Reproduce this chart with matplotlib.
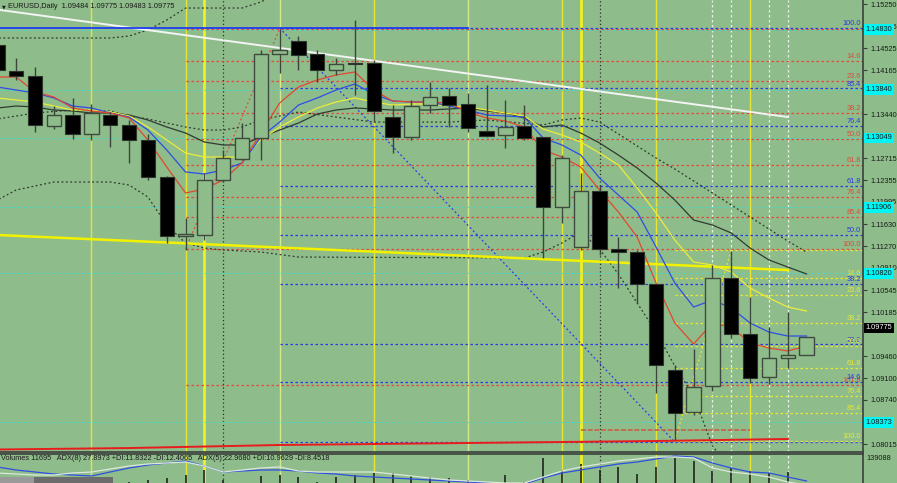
import numpy as np
import matplotlib
matplotlib.use("Agg")
import matplotlib.pyplot as plt
from matplotlib.patches import Rectangle

# ---------------- data ----------------
idx = list(range(-2, 42))
opens = [1.14576, 1.14149, 1.14066, 1.13244, 1.13425, 1.13113, 1.13425, 1.13260, 1.13014, 1.12406,
         1.11435, 1.11452, 1.12356, 1.12702, 1.13047, 1.14428, 1.14642, 1.14428, 1.14165, 1.14280,
         1.14280, 1.13392, 1.13063, 1.13589, 1.13738, 1.13606, 1.13162, 1.13096, 1.13244, 1.13063,
         1.11912, 1.11255, 1.12175, 1.11222, 1.11172, 1.10646, 1.09232, 1.08541, 1.08969, 1.10745,
         1.09824, 1.09117, 1.09429, 1.09484]
highs = [1.14658, 1.14362, 1.14214, 1.13573, 1.13705, 1.13606, 1.13474, 1.13343, 1.13113, 1.12422,
         1.11731, 1.12471, 1.12850, 1.13293, 1.14494, 1.14839, 1.14724, 1.14494, 1.14362, 1.14987,
         1.14329, 1.13589, 1.13672, 1.13968, 1.13869, 1.13787, 1.13918, 1.13672, 1.13589, 1.13063,
         1.12767, 1.12471, 1.12274, 1.11419, 1.11205, 1.10646, 1.09314, 1.09577, 1.10959, 1.11189,
         1.10432, 1.09939, 1.10186, 1.09775]
lows = [1.14083, 1.14001, 1.13146, 1.13195, 1.13030, 1.13014, 1.12899, 1.12636, 1.12356, 1.11320,
        1.11205, 1.11370, 1.12323, 1.12685, 1.12685, 1.14116, 1.14165, 1.13968, 1.14083, 1.13754,
        1.13309, 1.12800, 1.13014, 1.13458, 1.13228, 1.13146, 1.13063, 1.12882, 1.13014, 1.11074,
        1.11649, 1.11205, 1.11123, 1.10580, 1.10334, 1.08854, 1.08081, 1.08492, 1.08887, 1.09758,
        1.09018, 1.09002, 1.09265, 1.09483]
closes = [1.14165, 1.14066, 1.13260, 1.13425, 1.13113, 1.13458, 1.13260, 1.13014, 1.12406, 1.11435,
          1.11468, 1.12356, 1.12718, 1.13047, 1.14428, 1.14494, 1.14412, 1.14165, 1.14264, 1.14264,
          1.13491, 1.13063, 1.13573, 1.13721, 1.13589, 1.13211, 1.13080, 1.13228, 1.13047, 1.11912,
          1.12718, 1.12175, 1.11222, 1.11172, 1.10646, 1.09314, 1.08525, 1.08953, 1.10745, 1.09824,
          1.09101, 1.09429, 1.09479, 1.09775]

ma_red = [1.14050, 1.14050, 1.13803, 1.13721, 1.13540, 1.13491, 1.13458, 1.13376, 1.13014, 1.12570,
          1.12143, 1.12208, 1.12356, 1.12636, 1.13129, 1.13622, 1.13885, 1.14001, 1.14083, 1.14132,
          1.13836, 1.13655, 1.13639, 1.13639, 1.13622, 1.13474, 1.13376, 1.13326, 1.13228, 1.12850,
          1.12734, 1.12570, 1.12192, 1.11830, 1.11419, 1.10663, 1.10005, 1.09660, 1.10005, 1.09939,
          1.09676, 1.09594, 1.09545, 1.09627]
ma_blue = [1.13885, 1.13836, 1.13787, 1.13705, 1.13573, 1.13540, 1.13458, 1.13392, 1.13178, 1.12850,
           1.12488, 1.12455, 1.12521, 1.12636, 1.13063, 1.13309, 1.13589, 1.13705, 1.13836, 1.13935,
           1.13770, 1.13655, 1.13639, 1.13639, 1.13573, 1.13507, 1.13425, 1.13409, 1.13392, 1.13047,
           1.12932, 1.12767, 1.12389, 1.12110, 1.11830, 1.11255, 1.10663, 1.10268, 1.10383, 1.10252,
           1.10005, 1.09857, 1.09791, 1.09791]
ma_yellow = [1.13705, 1.13672, 1.13639, 1.13573, 1.13507, 1.13507, 1.13474, 1.13409, 1.13228, 1.13014,
             1.12800, 1.12734, 1.12734, 1.12734, 1.13014, 1.13228, 1.13392, 1.13540, 1.13639, 1.13705,
             1.13639, 1.13589, 1.13606, 1.13606, 1.13573, 1.13557, 1.13507, 1.13458, 1.13409, 1.13195,
             1.13096, 1.12981, 1.12800, 1.12603, 1.12225, 1.11814, 1.11370, 1.11008, 1.10959, 1.10844,
             1.10580, 1.10416, 1.10268, 1.10202]
ma_dark = [1.13540, 1.13573, 1.13557, 1.13507, 1.13491, 1.13458, 1.13458, 1.13425, 1.13343, 1.13228,
           1.13129, 1.12981, 1.12932, 1.12932, 1.13063, 1.13178, 1.13293, 1.13441, 1.13507, 1.13540,
           1.13524, 1.13507, 1.13507, 1.13507, 1.13524, 1.13540, 1.13491, 1.13458, 1.13376, 1.13228,
           1.13260, 1.13129, 1.12965, 1.12767, 1.12554, 1.12307, 1.12027, 1.11698, 1.11616, 1.11485,
           1.11238, 1.11041, 1.10926, 1.10811]

band_idx = [-2, 4, 5, 6, 7, 8, 11, 12, 13, 14]
band_upper = [1.14691, 1.14691, 1.14724, 1.14823, 1.14987, 1.15184, 1.15184, 1.15283, 1.15448, 1.15650]
mid_idx = [-2, 0, 2, 4, 5, 6, 7, 8, 9, 10, 11, 12, 14, 18, 22, 24, 27, 28, 29, 30, 31, 32, 33, 34,
           35, 36, 37, 38, 39, 40, 41]
band_mid = [1.13359, 1.13458, 1.13507, 1.13491, 1.13409, 1.13359, 1.13293, 1.13228, 1.13178, 1.13178,
            1.13228, 1.13343, 1.13474, 1.13309, 1.13309, 1.13343, 1.13260, 1.13343, 1.13376, 1.13309,
            1.13113, 1.12915, 1.12718, 1.12537, 1.12340, 1.12143, 1.11945, 1.11748, 1.11551, 1.11353,
            1.11172]
low_idx = [-2, -1, 0, 1, 4, 5, 6, 7, 8, 9, 10, 12, 14, 26, 27, 28, 29, 30, 31, 32, 33, 34, 35, 36, 37]
band_lower = [1.12027, 1.12192, 1.12258, 1.12323, 1.12323, 1.12274, 1.12077, 1.11616, 1.11320, 1.11238,
              1.11205, 1.11172, 1.11090, 1.11074, 1.11172, 1.11320, 1.11501, 1.11222, 1.10811, 1.10334,
              1.09857, 1.09298, 1.08805, 1.07983, 1.07600]

long_idx = [-2, 5, 13, 23, 33, 40]
ma_long = [1.07925, 1.07949, 1.07999, 1.08032, 1.08065, 1.08098]

red_fib = (8, 1.11222, 13, 1.14839)      # (index, low) -> (index, high)
blue_fib = (13, 1.14856, 34, 1.08048)    # (index, high) -> (index, low)
yellow_fib = (34, 1.08065, 37, 1.11205)  # (index, low) -> (index, high)
red_levels = [0.0, 14.6, 23.6, 38.2, 50.0, 61.8, 76.4, 85.4, 100.0, 161.8]
blue_levels = [0.0, 14.6, 23.6, 38.2, 50.0, 61.8, 76.4, 85.4, 100.0]
yellow_levels = [0.0, 14.6, 23.6, 38.2, 50.0, 61.8, 76.4, 85.4, 100.0]

cyan_prices = [1.14830, 1.13840, 1.13049, 1.11906, 1.10820, 1.08373]
white_trend = [(-2, 1.15158), (40, 1.13392)]
yellow_trend = [(-2, 1.11452), (40, 1.10876)]
blue_hline = (1.14856, -2, 23)
dim_red_hline = (1.08245, 29, 38)

vl_yellow = [3, 8, 18, 28, 33, 38]
vl_yellow_thick = [9, 29]
vl_pale = [13, 23]
vl_dark = [10, 30]
vl_white = [36, 37, 39, 40]

price_ticks = [1.15250, 1.14885, 1.14525, 1.14165, 1.13440, 1.12715, 1.12355,
               1.11995, 1.11630, 1.11270, 1.10910, 1.10545, 1.10185, 1.09460, 1.09100,
               1.08740, 1.08015]

volumes = [76000, 76000, 78000, 80000, 79000, 81000, 80000, 85250, 89740, 94220, 100950, 112170,
           89740, 83000, 98710, 100950, 96470, 85250, 96470, 100950, 105440, 105440, 98710, 96470,
           94220, 89740, 83000, 100950, 85250, 139088, 112170, 125630, 112170, 118900, 103200, 118900,
           138000, 132360, 109930, 116660, 109930, 105440, 107680, 11695]
adx_main = [27.6, 24.0, 21.6, 19.2, 18.0, 16.8, 21.6, 26.4, 30.0, 32.4, 34.8, 28.8, 21.6, 22.8, 24.0,
            24.0, 22.8, 20.4, 19.2, 16.8, 15.6, 14.4, 13.2, 12.0, 10.8, 9.6, 8.4, 7.2, 7.2, 14.4, 20.4,
            24.0, 27.6, 31.2, 33.6, 37.2, 40.8, 39.6, 32.4, 26.4, 21.6, 20.4, 15.6, 10.8]
adx_fast = [20.4, 19.2, 18.0, 18.0, 20.4, 21.6, 25.2, 28.8, 31.2, 32.4, 33.6, 28.8, 21.6, 24.0, 26.4,
            27.6, 22.8, 21.6, 21.6, 21.6, 21.6, 19.2, 16.8, 14.4, 12.0, 10.8, 9.6, 8.4, 8.4, 15.6, 22.8,
            27.6, 31.2, 34.8, 37.2, 39.6, 39.6, 38.4, 26.4, 21.6, 19.2, 15.6, 9.6, 6.0]

title = "EURUSD,Daily  1.09484 1.09775 1.09483 1.09775"
sub_title = ("Volumes 11695   ADX(8) 27.8973 +DI:11.8322 -DI:12.4065   "
             "ADX(5) 22.9680 +DI:10.9629 -DI:8.4518")
vol_max_label = "139088"
bid_label = "1.09775"

# ---------------- style ----------------
BG = '#8fbc8b'
FONT = 'Liberation Sans'
FS = 5.3
W, H = 897, 483
PLOT_R = 863

fig = plt.figure(figsize=(W / 100, H / 100), dpi=100)
fig.patch.set_facecolor(BG)
ax = fig.add_axes([0, 31 / H, PLOT_R / W, 452 / H])
axv = fig.add_axes([0, 0, PLOT_R / W, 29 / H])
ax.set_facecolor(BG)
axv.set_facecolor(BG)

XL = (-1.86, 44.0)
ax.set_xlim(*XL)
ax.set_ylim(1.07884, 1.15316)
axv.set_xlim(*XL)
axv.set_ylim(83006, 148064)

for a in (ax, axv):
    for s in ('top', 'left'):
        a.spines[s].set_visible(False)
    a.spines['right'].set_color('#3a403a')
    a.spines['right'].set_linewidth(1.2)
    a.spines['bottom'].set_color('#3a403a')
    a.set_xticks([])
axv.spines['top'].set_visible(True)
axv.spines['top'].set_color('#3a403a')
axv.spines['top'].set_linewidth(1.2)
axv.spines['bottom'].set_visible(False)
ax.spines['bottom'].set_linewidth(1.2)

ax.yaxis.tick_right()
ax.set_yticks(price_ticks)
ax.set_yticklabels([f"{p:.5f}" for p in price_ticks], fontsize=FS, family=FONT, color='#1a1a1a')
ax.tick_params(axis='y', length=3, width=0.8, color='#3a403a', pad=2)
axv.set_yticks([])

# vertical lines in both panels
for a in (ax, axv):
    for k in vl_yellow:
        a.axvline(k, color='#e6e632', lw=1.0, zorder=1)
    for k in vl_yellow_thick:
        a.axvline(k, color='#f0f020', lw=2.0, zorder=1)
    for k in vl_pale:
        a.axvline(k, color='#d6e88c', lw=1.0, zorder=1)
    for k in vl_dark:
        a.axvline(k, color='#2a302a', lw=0.9, ls=(0, (1, 2)), zorder=1)
    for k in vl_white:
        a.axvline(k, color='#e8f0e8', lw=0.9, ls=(0, (2, 2)), zorder=1)

# cyan horizontal lines
for p in cyan_prices:
    ax.axhline(p, color='#48d8c8', lw=0.7, ls=(0, (3, 3)), zorder=1)

# fib levels
def fib(spec, levels, color, from_top):
    k0, p0, k1, p1 = spec
    hi, lo = max(p0, p1), min(p0, p1)
    start = min(k0, k1)
    ax.plot([k0, k1], [p0, p1], color=color, lw=0.9, ls=(0, (1.5, 2)), zorder=2)
    for lv in levels:
        if from_top:
            p = hi - lv / 100 * (hi - lo)
        else:
            p = lo + lv / 100 * (hi - lo)
        ax.plot([start, XL[1]], [p, p], color=color, lw=0.9, ls=(0, (2, 2)), zorder=2)
        if lv != 0.0:
            ax.annotate(f"{lv:.1f}", (43.9, p), xytext=(0, 0.5), textcoords='offset points',
                        ha='right', va='bottom', fontsize=FS, family=FONT, color=color, zorder=6)

fib(red_fib, red_levels, '#e04a3a', True)
fib(blue_fib, blue_levels, '#2a3ae8', False)
fib(yellow_fib, yellow_levels, '#e8e830', True)

# dotted bands
ax.plot(band_idx, band_upper, color='#2e3a2e', lw=0.9, ls=(0, (1.5, 2)), zorder=3)
ax.plot(mid_idx, band_mid, color='#2e3a2e', lw=0.9, ls=(0, (1.5, 2)), zorder=3)
ax.plot(low_idx, band_lower, color='#2e3a2e', lw=0.9, ls=(0, (1.5, 2)), zorder=3)

# trend lines and horizontal segments
ax.plot([p[0] for p in white_trend], [p[1] for p in white_trend], color='#f4f4f4', lw=1.4, zorder=4)
ax.plot([p[0] for p in yellow_trend], [p[1] for p in yellow_trend], color='#f2f200', lw=1.8, zorder=4)
ax.plot([blue_hline[1], blue_hline[2]], [blue_hline[0]] * 2, color='#1f3cf0', lw=1.3, zorder=4)
ax.plot([dim_red_hline[1], dim_red_hline[2]], [dim_red_hline[0]] * 2, color='#c8604a', lw=1.2,
        ls=(0, (3, 1)), zorder=3)
ax.plot(long_idx, ma_long, color='#e81c1c', lw=1.4, zorder=4)

# moving averages
ax.plot(idx, ma_dark, color='#2f3c2f', lw=0.9, zorder=5)
ax.plot(idx, ma_yellow, color='#ecec3a', lw=0.9, zorder=5)
ax.plot(idx, ma_blue, color='#2d4ee6', lw=0.9, zorder=5)
ax.plot(idx, ma_red, color='#e2482e', lw=0.9, zorder=5)

# candles
BW = 0.76
for k, o, h, l, c in zip(idx, opens, highs, lows, closes):
    ax.plot([k, k], [l, h], color='#3c463c', lw=1.0, zorder=6, solid_capstyle='butt')
    bottom, top = min(o, c), max(o, c)
    hgt = max(top - bottom, 0.00005)
    if c < o:
        ax.add_patch(Rectangle((k - BW / 2, bottom), BW, hgt, facecolor='black',
                               edgecolor='#2c342c', lw=0.8, zorder=7))
    else:
        ax.add_patch(Rectangle((k - BW / 2, bottom), BW, hgt, facecolor=BG,
                               edgecolor='#3e4a3e', lw=1.0, zorder=7))

# cyan price labels and bid label
for p in cyan_prices:
    ax.annotate(f"{p:.5f}", (1.0, p), xycoords=('axes fraction', 'data'), xytext=(2, 0),
                textcoords='offset points', ha='left', va='center', fontsize=FS, family=FONT,
                color='#1a1a1a', annotation_clip=False, zorder=10,
                bbox=dict(boxstyle='square,pad=0.25', facecolor='#00f5f5', edgecolor='none'))
ax.annotate(bid_label, (1.0, closes[-1]), xycoords=('axes fraction', 'data'), xytext=(2, 6.5),
            textcoords='offset points', ha='left', va='center', fontsize=FS, family=FONT,
            color='white', annotation_clip=False, zorder=11,
            bbox=dict(boxstyle='square,pad=0.25', facecolor='black', edgecolor='none'))

# title
fig.text(2 / W, 1 - 7 / H, "\u25bc", fontsize=3.5, family='DejaVu Sans', color='#1a1a1a',
         va='center', ha='left')
fig.text(8 / W, 1 - 7 / H, title, fontsize=FS, family=FONT, color='#1a1a1a', va='center', ha='left')

# lower panel: volumes and ADX
axv.vlines(idx, 0, volumes, color='#1e241e', lw=1.2, zorder=3)
axa = axv.twinx()
axa.set_xlim(*XL)
axa.set_ylim(8.4, 43.2)
axa.set_yticks([])
for s in axa.spines.values():
    s.set_visible(False)
axa.plot(idx, adx_main, color='#3050e0', lw=0.9, zorder=4)
axa.plot(idx, adx_fast, color='#dce8dc', lw=0.9, zorder=4)
fig.text(1 / W, 1 - 459 / H, sub_title, fontsize=FS, family=FONT, color='#1a1a1a', va='center', ha='left')
fig.text(866 / W, 1 - 458 / H, vol_max_label, fontsize=FS, family=FONT, color='#1a1a1a', va='center', ha='left')

# terminal tab strip at the bottom left
fig.patches.append(Rectangle((0, 0), 113 / W, 6 / H, transform=fig.transFigure, facecolor='#6c6c6c',
                             edgecolor='none', zorder=20))
fig.patches.append(Rectangle((0, 0), 34 / W, 6 / H, transform=fig.transFigure, facecolor='#9a9a9a',
                             edgecolor='none', zorder=21))

fig.savefig('out.png', dpi=100, facecolor=BG)
